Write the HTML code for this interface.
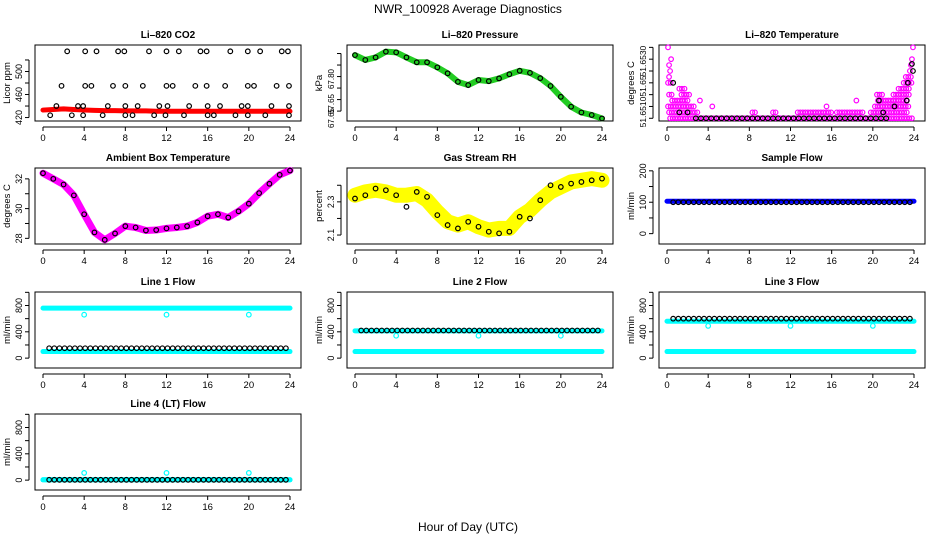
<!DOCTYPE html>
<html><head><meta charset="utf-8"><style>
html,body{margin:0;padding:0;background:#fff;}
svg{display:block;font-family:"Liberation Sans",Arial,sans-serif;}
</style></head><body>
<svg id="c" width="936" height="540" viewBox="0 0 936 540">
<text x="468" y="13" font-size="12" text-anchor="middle">NWR_100928  Average Diagnostics</text>
<text x="468" y="531" font-size="12" text-anchor="middle">Hour of Day (UTC)</text>
</svg>
<script>
const hours = [0,1,2,3,4,5,6,7,8,9,10,11,12,13,14,15,16,17,18,19,20,21,22,23,24];
const xTicks = [0,4,8,12,16,20,24];
// CO2
const co2Red = [433,434,435,434,433,432.5,432,432,431.5,431.5,431.5,431,431,431,431,431,431,431,431,431,431,431,431,431,431];
const co2X535 = [2.35,4.1,5.2,7.3,7.9,10.3,12,13.2,15.3,15.9,18.2,19.9,21.1,23.2,23.8];
const co2X475 = [1.8,4.1,4.7,6.8,8,9.7,12,12.6,14.8,15.9,17.7,19.9,20.5,22.7,23.9];
const co2X440 = [1.3,3.4,3.9,6.3,8,9.2,11.3,12.1,14.2,16,17.2,19.3,19.9,22.2,23.9];
const co2X424 = [0.7,2.8,3.9,5.8,8,8.7,10.8,11.9,13.7,16,16.6,18.7,19.9,21.6,23.9];
// Pressure
const pressure = [67.843,67.822,67.833,67.858,67.855,67.833,67.812,67.812,67.790,67.764,67.727,67.713,67.735,67.730,67.742,67.760,67.775,67.766,67.743,67.709,67.662,67.619,67.594,67.583,67.568];
// Li-820 temperature (tick units): runs [level, from, to]
const tempRuns = [[0,0.3,24],[0.5,0.2,3.0],[0.5,8.3,8.6],[0.5,10.3,10.6],[0.5,12.7,16],[0.5,16.5,19],[0.5,19.8,23.5],[1,0.1,2.8],[1,4.4,4.6],[1,15.5,15.7],[1,20.2,23.5],[1.5,0.5,2.2],[1.5,3.2,3.4],[1.5,18.4,18.6],[1.5,20.5,23.3],[2,0.2,0.6],[2,1.4,2.2],[2,20.4,21],[2,22,23.5],[2.5,1.2,1.8],[2.5,22.5,23.5],[3,0.1,0.4],[3,23,23.8],[3.5,0.2,0.4],[3.5,23.2,23.8],[4,0.3,0.4],[4,23.6,23.8],[4.5,0.2,0.3],[4.5,23.7,23.9],[5,0.4,0.5],[5,23.8,23.9],[6,0.1,0.1],[6,23.9,23.9]];
const tempBlackX = [0.6,1.2,2.0,20.6,21.0,22.1,23.3,23.4,23.8,23.9];
const tempBlackL = [3,0.5,0.5,1.5,0.5,1,1.5,3,4.6,4];
// Ambient
const ambient = [32.38,32.0,31.62,30.89,29.62,28.4,27.9,28.33,28.82,28.73,28.53,28.56,28.67,28.73,28.82,29.07,29.49,29.62,29.4,29.82,30.33,31.04,31.67,32.27,32.56];
// RH
const rh = [2.34,2.36,2.37,2.36,2.34,2.34,2.35,2.31,2.24,2.18,2.16,2.18,2.15,2.13,2.14,2.14,2.21,2.25,2.31,2.36,2.39,2.42,2.43,2.44,2.43];
const rhBlack = [2.32,2.34,2.38,2.37,2.34,2.27,2.36,2.33,2.22,2.16,2.14,2.18,2.15,2.12,2.11,2.12,2.21,2.20,2.31,2.40,2.39,2.41,2.42,2.43,2.44];
// Flows
const sampleFlow = [103,100];
const line1 = [760,150,100,660];
const line2 = [415,420,100,340];
const line3 = [560,600,100,490];
const line4 = [5,5,5,110];
const outlierX = [4,12,20];

const svg = document.getElementById('c');
const NS = 'http://www.w3.org/2000/svg';
function el(tag, attrs, parent){const e=document.createElementNS(NS,tag);for(const k in attrs)e.setAttribute(k,attrs[k]);(parent||svg).appendChild(e);return e;}
const colL=[35,347,659], rowT=[45,168,292,414], W=266, H=76;

function panel(col,row,name,title,ylab,ydom,yticks,ylabels,lfs){
  const L=colL[col],T=rowT[row];
  const g=el('g',{});
  
  
  const sx=h=>L+8+h*(247/24);
  const sy=v=>T+H-(v-ydom[0])/(ydom[1]-ydom[0])*H;
  const box=el('rect',{x:L,y:T,width:W,height:H,fill:'none',stroke:'#000','stroke-width':1},g);
  
  
  const t=el('text',{x:L+W/2,y:T-7,'font-size':10,'font-weight':'bold','text-anchor':'middle'},g);t.textContent=title;
  
  
  const yl=el('text',{x:L-25,y:T+H/2,'font-size':9.5,'text-anchor':'middle',transform:`rotate(-90 ${L-25} ${T+H/2})`},g);yl.textContent=ylab;
  
  
  el('line',{x1:sx(0),x2:sx(24),y1:T+H+6,y2:T+H+6,stroke:'#000'},g);
  xTicks.forEach(v=>{el('line',{x1:sx(v),x2:sx(v),y1:T+H+6,y2:T+H+10,stroke:'#000'},g);
    const tx=el('text',{x:sx(v),y:T+H+20,'font-size':9.5,'text-anchor':'middle'},g);tx.textContent=v;
    
    });
  el('line',{x1:L-6,x2:L-6,y1:sy(yticks[0]),y2:sy(yticks[yticks.length-1]),stroke:'#000'},g);
  yticks.forEach(v=>el('line',{x1:L-10,x2:L-6,y1:sy(v),y2:sy(v),stroke:'#000'},g));
  ylabels.forEach(([v,s])=>{const y=sy(v);const tx=el('text',{x:L-13,y:y,'font-size':lfs||9,'text-anchor':'middle',transform:`rotate(-90 ${L-13} ${y})`},g);tx.textContent=s;
    
    });
  return {g,sx,sy};
}
function band(p,xs,ys,color,w){el('polyline',{points:xs.map((x,i)=>p.sx(x)+','+p.sy(ys[i])).join(' '),fill:'none',stroke:color,'stroke-width':w,'stroke-linejoin':'round','stroke-linecap':'round'},p.g);}
function pt(p,x,y,color){const c=el('circle',{cx:p.sx(x),cy:p.sy(y),r:2.3,fill:'none',stroke:color,'stroke-width':1.2},p.g);
  
  }
function flat(p,v,color,w){band(p,[0,24],[v,v],color,w);}
function halfHours(){const a=[];for(let h=0.6;h<=24;h+=0.5)a.push(h);return a;}

// CO2
let p=panel(0,0,'co2-panel','Li\u2013820 CO2','Licor ppm',[414,546],[420,440,460,480,500,520],[[420,'420'],[460,'460'],[500,'500']]);
band(p,hours,co2Red,'#ff0000',5);
[[co2X535,535],[co2X475,475],[co2X440,440],[co2X424,424]].forEach(([xs,v])=>xs.forEach(x=>pt(p,x,v,'#000')));
// Pressure
p=panel(1,0,'pressure-panel','Li\u2013820 Pressure','kPa',[67.557,67.887],[67.60,67.65,67.70,67.75,67.80,67.85],[]);
[[79,'67.80'],[104,'67.65'],[118,'67.65']].forEach(([y,s])=>{const tx=el('text',{x:334,y:y,'font-size':8,'text-anchor':'middle',transform:`rotate(-90 334 ${y})`},p.g);tx.textContent=s;
  
  });
band(p,hours,pressure,'#22cc22',6);
hours.forEach((h,i)=>pt(p,h,pressure[i],'#000'));
// Li-820 temperature
p=panel(2,0,'li820-temperature-panel','Li\u2013820 Temperature','degrees C',[-0.23,6.2],[0,1,2,3,4,5,6],[[0.53,'51.6510'],[2.73,'51.65'],[4.84,'51.6530']],8.5);
tempRuns.forEach(([lv,a,b])=>{for(let h=a;h<=b+0.001;h+=0.25)pt(p,h,lv,'#ff00ff');});
for(let h=2.8;h<=21.5;h+=0.5)pt(p,h,0,'#000');
tempBlackX.forEach((x,i)=>pt(p,x,tempBlackL[i],'#000'));
// Ambient
p=panel(0,1,'ambient-temperature-panel','Ambient Box Temperature','degrees C',[27.62,32.73],[28,29,30,31,32],[[28,'28'],[30,'30'],[32,'32']]);
band(p,hours,ambient,'#ff00ff',7);
hours.forEach((h,i)=>pt(p,h,ambient[i],'#000'));
// RH
p=panel(1,1,'gas-stream-rh-panel','Gas Stream RH','percent',[2.046,2.504],[2.1,2.2,2.3,2.4],[[2.1,'2.1'],[2.3,'2.3']]);
band(p,hours,rh,'#ffff00',15);
hours.forEach((h,i)=>pt(p,h,rhBlack[i],'#000'));
// Sample flow
p=panel(2,1,'sample-flow-panel','Sample Flow','ml/min',[-33,209],[0,50,100,150,200],[[0,'0'],[100,'100'],[200,'200']]);
flat(p,sampleFlow[0],'#0000ff',5);
halfHours().forEach(h=>pt(p,h,sampleFlow[1],'#000'));
// Line flows
const fdom=[-150,1005],fticks=[0,200,400,600,800,1000],flab=[[0,'0'],[400,'400'],[800,'800']];
[[0,2,'line1-flow-panel','Line 1 Flow',line1],[1,2,'line2-flow-panel','Line 2 Flow',line2],[2,2,'line3-flow-panel','Line 3 Flow',line3],[0,3,'line4-flow-panel','Line 4 (LT) Flow',line4]].forEach(([c,r,n,t,d])=>{
  const q=panel(c,r,n,t,'ml/min',fdom,fticks,flab);
  flat(q,d[0],'#00ffff',5);
  flat(q,d[2],'#00ffff',5);
  halfHours().forEach(h=>pt(q,h,d[1],'#000'));
  outlierX.forEach(x=>pt(q,x,d[3],'#00ffff'));
});
</script>
</body></html>
